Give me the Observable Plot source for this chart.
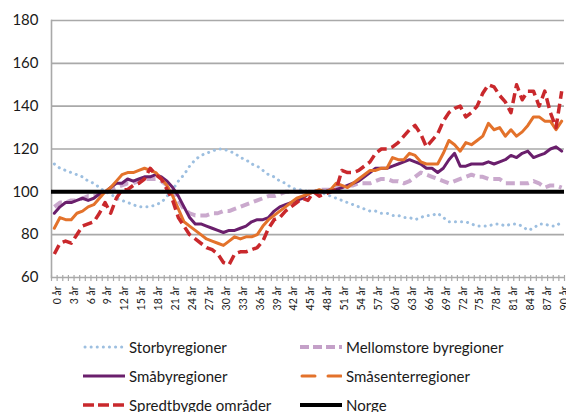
<!DOCTYPE html>
<html>
<head>
<meta charset="utf-8">
<script src="https://cdn.jsdelivr.net/npm/d3@7"></script>
<script src="https://cdn.jsdelivr.net/npm/@observablehq/plot@0.6"></script>
<style>
  html, body { margin: 0; padding: 0; background: #fff; }
  body { width: 566px; height: 412px; overflow: hidden; font-family: Lato, "Open Sans", sans-serif; color: #1a1a1a; }
  #chart svg { display: block; }
  .legend { display: grid; grid-template-columns: 217px auto; margin-left: 83px; padding-top: 12px; }
  .item { display: flex; align-items: center; height: 29px; font-size: 15px; white-space: nowrap; }
  .item svg { margin-right: 4px; flex: none; }
</style>
</head>
<body>
<div id="chart"></div>
<div class="legend" id="legend"></div>
<script>
// Categories: age in years (0 år ... 90 år)
const ages = d3.range(0, 91);
const ageTickLabels = [0,3,6,9,12,15,18,21,24,27,30,33,36,39,42,45,48,51,54,57,60,63,66,69,72,75,78,81,84,87,90];
const yTicks = [60, 80, 100, 120, 140, 160, 180];

const storbyregioner = [113,111,110,109,108,107,105,104,102,100,99,97,96,95,94,93,93,93,94,95,98,101,105,108,112,115,117,118,119,120,120,119,118,116,115,113,112,110,108,107,105,104,102,101,101,100,100,100,99,98,97,96,95,94,93,92,91,91,90,90,89,89,88,88,87,88,89,89,90,88,86,86,86,86,85,84,84,84,85,85,84,85,85,84,82,83,85,85,84,84,86];
const mellomstore = [93,95,95,96,96,97,98,98,99,100,101,102,103,104,104,105,106,106,106,105,103,101,96,92,90,89,89,89,90,90,91,91,92,93,94,95,96,97,98,98,99,100,100,100,100,100,100,101,101,101,102,102,103,103,104,104,104,105,106,106,105,105,104,105,107,109,108,107,106,105,104,105,106,107,108,107,107,106,106,106,104,104,104,104,104,105,104,102,103,103,102];
const smabyregioner = [90,93,95,95,96,97,96,97,99,100,102,104,104,106,105,106,107,107,108,107,105,102,98,93,88,85,85,84,83,82,81,82,82,83,84,86,87,87,88,91,93,94,95,96,97,99,100,100,100,101,101,102,103,104,105,107,109,111,111,111,112,113,114,115,114,113,111,111,109,111,115,118,112,112,113,113,113,114,113,114,115,117,116,118,119,116,117,118,120,121,119];
const smasenterregioner = [83,88,87,87,90,91,93,94,97,100,102,105,108,109,109,110,111,110,109,106,103,98,92,86,84,82,80,78,77,76,75,77,79,78,79,79,80,84,87,89,91,93,95,97,98,99,100,101,100,101,104,103,102,104,106,108,110,110,111,111,116,115,115,118,117,114,113,113,113,118,124,122,119,123,122,124,126,132,129,130,126,129,126,128,131,135,135,133,133,129,133];
const spredtbygde = [71,76,77,76,80,84,85,86,90,95,90,97,101,101,103,104,106,111,108,106,101,96,88,84,80,78,76,74,73,71,67,66,71,72,72,73,74,77,83,87,88,91,93,95,97,96,100,98,99,100,101,110,109,109,110,112,114,118,120,120,121,123,126,129,131,127,121,124,127,133,137,139,140,135,137,140,146,150,149,145,142,137,150,143,147,147,140,147,137,130,147];
const norge = [100];

const seriesNames = ["Storbyregioner", "Mellomstore byregioner", "Småbyregioner", "Småsenterregioner", "Spredtbygde områder", "Norge"];
const seriesValues = [storbyregioner, mellomstore, smabyregioner, smasenterregioner, spredtbygde];

// Styles (kept apart from data)
const styles = {
  "Storbyregioner":        {stroke: "#9dbfe0", width: 3,   dash: "0.1,6", cap: "round", legendDash: "0.1,6"},
  "Mellomstore byregioner":{stroke: "#c4a0c8", width: 4,   dash: "9,5",   cap: "butt",  legendDash: "9,4"},
  "Småbyregioner":         {stroke: "#6a1f6c", width: 3,   dash: null,    cap: "round", legendDash: null},
  "Småsenterregioner":     {stroke: "#e3722b", width: 3,   dash: null,    cap: "round", legendDash: "13,13"},
  "Spredtbygde områder":   {stroke: "#c9282c", width: 3.5, dash: "10,5",  cap: "butt",  legendDash: "11,4"},
  "Norge":                 {stroke: "#000000", width: 4,   dash: null,    cap: "butt",  legendDash: null}
};

const boundaries = ages.map(a => a - 0.5).concat([ages[ages.length - 1] + 0.5]);

const marks = [
  Plot.gridY(yTicks, {stroke: "#a9a9a9", strokeOpacity: 1, strokeWidth: 1.6}),
  Plot.frame({anchor: "left", stroke: "#a9a9a9", strokeWidth: 1.6}),
  Plot.axisY({ticks: yTicks, tickSize: 0, tickPadding: 13, fontSize: 15, fill: "#1a1a1a"}),
  Plot.axisX({ticks: boundaries, tickSize: 6, dy: -2, text: null, stroke: "#a9a9a9", strokeWidth: 1.2}),
  Plot.axisX({ticks: ageTickLabels, tickFormat: d => `${d} år`, tickRotate: -90, tickSize: 0, tickPadding: 9, fontSize: 10.5, dx: 3, fill: "#1a1a1a", label: null})
];

seriesValues.forEach((vals, k) => {
  const s = styles[seriesNames[k]];
  marks.push(Plot.line(vals, {
    x: (d, i) => ages[i],
    y: d => d,
    stroke: s.stroke,
    strokeWidth: s.width,
    strokeDasharray: s.dash || undefined,
    strokeLinecap: s.cap,
    strokeLinejoin: "round",
    strokeOpacity: k === 1 ? 0.9 : 1
  }));
});
marks.push(Plot.ruleY(norge, {stroke: styles["Norge"].stroke, strokeWidth: styles["Norge"].width}));

const chart = Plot.plot({
  width: 566,
  height: 320,
  marginLeft: 51,
  marginRight: 2,
  marginTop: 20,
  marginBottom: 43,
  style: {fontFamily: "Lato, 'Open Sans', sans-serif", background: "#fff"},
  x: {domain: [-0.5, 90.5], axis: null},
  y: {domain: [60, 180], axis: null},
  marks
});
document.getElementById("chart").appendChild(chart);

// Legend (two columns, order as reference)
const legendOrder = ["Storbyregioner", "Mellomstore byregioner", "Småbyregioner", "Småsenterregioner", "Spredtbygde områder", "Norge"];
const legend = document.getElementById("legend");
legendOrder.forEach(name => {
  const s = styles[name];
  const item = document.createElement("div");
  item.className = "item";
  const ns = "http://www.w3.org/2000/svg";
  const sw = document.createElementNS(ns, "svg");
  sw.setAttribute("width", 42);
  sw.setAttribute("height", 10);
  const ln = document.createElementNS(ns, "line");
  ln.setAttribute("x1", s.cap === "round" && s.legendDash ? 2 : 0);
  ln.setAttribute("x2", 42);
  ln.setAttribute("y1", 5);
  ln.setAttribute("y2", 5);
  ln.setAttribute("stroke", s.stroke);
  ln.setAttribute("stroke-width", s.width);
  ln.setAttribute("stroke-linecap", s.cap);
  if (s.legendDash) ln.setAttribute("stroke-dasharray", s.legendDash);
  sw.appendChild(ln);
  item.appendChild(sw);
  const t = document.createElement("span");
  t.textContent = name;
  item.appendChild(t);
  legend.appendChild(item);
});
</script>
</body>
</html>
